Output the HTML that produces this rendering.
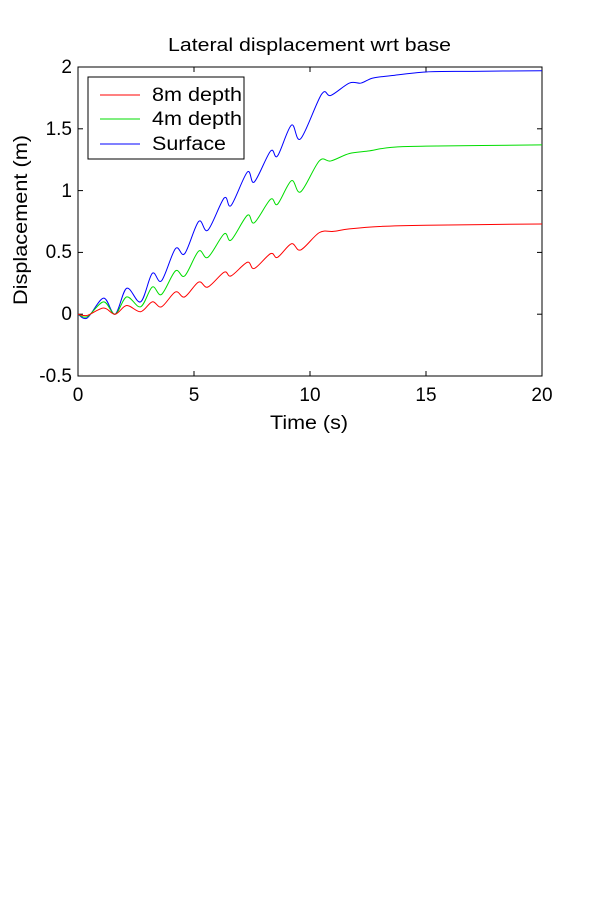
<!DOCTYPE html>
<html><head><meta charset="utf-8"><style>
body{margin:0;background:#fff;width:600px;height:900px;overflow:hidden}
svg text{font-family:"Liberation Sans",Arial,sans-serif;fill:#000}
</style></head><body>
<svg id="s" width="600" height="900" xmlns="http://www.w3.org/2000/svg">
<rect x="78" y="67" width="464" height="309" fill="#fff" stroke="#000" stroke-width="1"/>
<g stroke="#000" stroke-width="1">
<line x1="194" y1="376" x2="194" y2="371"/><line x1="310" y1="376" x2="310" y2="371"/><line x1="426" y1="376" x2="426" y2="371"/>
<line x1="194" y1="67" x2="194" y2="72"/><line x1="310" y1="67" x2="310" y2="72"/><line x1="426" y1="67" x2="426" y2="72"/>
<line x1="78" y1="314.2" x2="83" y2="314.2"/><line x1="78" y1="252.4" x2="83" y2="252.4"/><line x1="78" y1="190.6" x2="83" y2="190.6"/><line x1="78" y1="128.8" x2="83" y2="128.8"/>
<line x1="542" y1="314.2" x2="537" y2="314.2"/><line x1="542" y1="252.4" x2="537" y2="252.4"/><line x1="542" y1="190.6" x2="537" y2="190.6"/><line x1="542" y1="128.8" x2="537" y2="128.8"/>
</g>
<g font-size="19" text-anchor="middle">
<text x="78" y="401">0</text><text x="194" y="401">5</text><text x="310" y="401">10</text><text x="426" y="401">15</text><text x="542" y="401">20</text>
</g>
<g font-size="19" text-anchor="end">
<text x="72" y="382">-0.5</text><text x="72" y="320">0</text><text x="72" y="258">0.5</text><text x="72" y="197">1</text><text x="72" y="135">1.5</text><text x="72" y="73">2</text>
</g>
<text x="270" y="429" font-size="19" textLength="78" lengthAdjust="spacingAndGlyphs">Time (s)</text>
<text x="168" y="51" font-size="18" textLength="283" lengthAdjust="spacingAndGlyphs">Lateral displacement wrt base</text>
<text transform="translate(27,305) rotate(-90)" font-size="19" textLength="170" lengthAdjust="spacingAndGlyphs">Displacement (m)</text>
<g id="curves" fill="none" stroke-width="1"></g>
<rect x="88" y="77" width="156" height="82" fill="#fff" stroke="#000"/>
<line x1="100" y1="95" x2="140" y2="95" stroke="#f00"/>
<line x1="100" y1="119" x2="140" y2="119" stroke="#0d0"/>
<line x1="100" y1="144" x2="140" y2="144" stroke="#00f"/>
<g font-size="19"><text x="152" y="101" textLength="90" lengthAdjust="spacingAndGlyphs">8m depth</text><text x="152" y="125" textLength="90" lengthAdjust="spacingAndGlyphs">4m depth</text><text x="152" y="150" textLength="74" lengthAdjust="spacingAndGlyphs">Surface</text></g>
</svg>
<script>
var data={
"#00f":[[0,0],[0.4,-0.03],[1.1,0.13],[1.6,0],[2.1,0.21],[2.7,0.1],[3.2,0.33],[3.6,0.27],[4.2,0.53],[4.6,0.49],[5.2,0.75],[5.6,0.68],[6.3,0.94],[6.6,0.88],[7.3,1.15],[7.6,1.07],[8.3,1.32],[8.6,1.28],[9.2,1.53],[9.6,1.42],[10.5,1.78],[10.9,1.77],[11.7,1.87],[12.2,1.87],[12.7,1.91],[13.5,1.93],[15,1.96],[17,1.965],[20,1.97]],
"#0d0":[[0,0],[0.4,-0.02],[1.1,0.1],[1.6,0],[2.1,0.14],[2.7,0.06],[3.2,0.22],[3.6,0.16],[4.2,0.35],[4.6,0.31],[5.2,0.51],[5.6,0.46],[6.3,0.65],[6.6,0.6],[7.3,0.8],[7.6,0.74],[8.3,0.93],[8.6,0.89],[9.2,1.08],[9.6,0.99],[10.4,1.24],[10.9,1.24],[11.7,1.3],[12.5,1.32],[13.5,1.35],[15,1.36],[20,1.37]],
"#f00":[[0,0],[0.4,-0.01],[1.1,0.05],[1.6,0],[2.1,0.07],[2.7,0.02],[3.2,0.1],[3.6,0.06],[4.2,0.18],[4.6,0.14],[5.2,0.26],[5.6,0.22],[6.3,0.34],[6.6,0.31],[7.3,0.42],[7.6,0.37],[8.3,0.49],[8.6,0.46],[9.2,0.57],[9.6,0.52],[10.4,0.66],[11,0.67],[11.7,0.69],[13,0.71],[15,0.72],[20,0.73]]};
var g=document.getElementById('curves'),NS="http://www.w3.org/2000/svg";
function X(t){return 78+t*23.2}function Y(v){return 314.2-v*123.6}
for(var c in data){var p=data[c].map(function(a){return[X(a[0]),Y(a[1])]});
var d="M"+p[0][0]+","+p[0][1];
for(var i=0;i<p.length-1;i++){var p0=p[i>0?i-1:0],p1=p[i],p2=p[i+1],p3=p[i+2<p.length?i+2:i+1];
d+=" C"+(p1[0]+(p2[0]-p0[0])/6)+","+(p1[1]+(p2[1]-p0[1])/6)+" "+(p2[0]-(p3[0]-p1[0])/6)+","+(p2[1]-(p3[1]-p1[1])/6)+" "+p2[0]+","+p2[1];}
var e=document.createElementNS(NS,"path");e.setAttribute("d",d);e.setAttribute("stroke",c);g.appendChild(e);}
</script>
</body></html>
